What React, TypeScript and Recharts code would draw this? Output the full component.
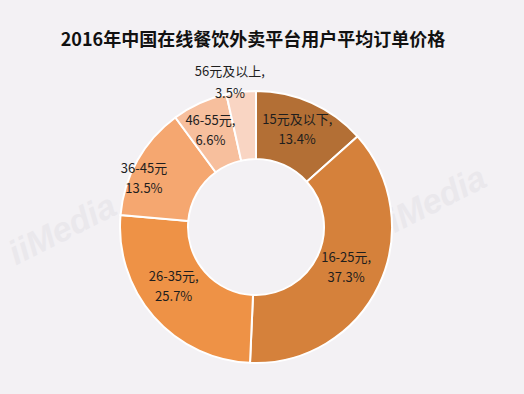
import { PieChart, Pie, Cell } from 'recharts'

const categories = ['15元及以下', '16-25元', '26-35元', '36-45元', '46-55元', '56元及以上']
const shares = [13.4, 37.3, 25.7, 13.5, 6.6, 3.5]
const labelNames = ['15元及以下,', '16-25元,', '26-35元,', '36-45元', '46-55元,', '56元及以上,']

const colors = ['#B36F35', '#D5813B', '#EE9246', '#F5A770', '#F7BF9D', '#F9D5C3']

const chartData = categories.map((name, i) => ({ name, value: shares[i] }))

const RADIAN = Math.PI / 180
const FONT = '"Noto Sans CJK SC", "Noto Sans", sans-serif'

// label radius per slice, some labels sit further out than the ring middle
const labelRadius = [105, 99, 102, 122, 106, 146]
const angleShift = [1, 1, -5, 6, 1, 4]

const renderLabel = (props: any) => {
    const { cx, cy, midAngle, index } = props
    const a = (midAngle + angleShift[index]) * RADIAN
    const r = labelRadius[index]
    const x = cx + r * Math.cos(-a)
    const y = cy + r * Math.sin(-a)
    const gap = index === 5 ? 22 : 20
    return (
        <text
            x={x}
            y={y}
            textAnchor='middle'
            fill='#1E1E1E'
            fontSize={13}
            fontFamily={FONT}
        >
            <tspan x={x} dy={-gap / 2 + 4}>{labelNames[index]}</tspan>
            <tspan x={x} dy={gap}>{`${shares[index]}%`}</tspan>
        </text>
    )
}

const Watermark = ({ left, top }: { left: number, top: number }) => (
    <div
        style={{
            position: 'absolute',
            left,
            top,
            transform: 'rotate(-27deg)',
            transformOrigin: 'left top',
            color: '#EAE8EC',
            fontFamily: 'Arial, "Liberation Sans", sans-serif',
            fontWeight: 'bold',
            fontStyle: 'italic',
            fontSize: 34,
            whiteSpace: 'nowrap',
            pointerEvents: 'none',
        }}
    >
        iiMedia
    </div>
)

export default function App() {
    return (
        <div
            style={{
                position: 'absolute',
                left: 0,
                top: 0,
                width: 524,
                height: 394,
                background: '#F3F1F4',
                overflow: 'hidden',
            }}
        >
            <Watermark left={2} top={238} />
            <Watermark left={372} top={210} />
            <div
                style={{
                    position: 'absolute',
                    left: 0,
                    top: 26,
                    width: 506,
                    textAlign: 'center',
                    fontFamily: FONT,
                    fontWeight: 'bold',
                    fontSize: 18,
                    lineHeight: '24px',
                    color: '#111',
                }}
            >
                2016年中国在线餐饮外卖平台用户平均订单价格
            </div>
            <div style={{ position: 'absolute', left: 0, top: 0 }}>
                <PieChart width={524} height={394}>
                    <Pie
                        data={chartData}
                        dataKey='value'
                        nameKey='name'
                        cx={251}
                        cy={222}
                        innerRadius={68}
                        outerRadius={136}
                        startAngle={90}
                        endAngle={-270}
                        stroke='#FFFFFF'
                        strokeWidth={2}
                        label={renderLabel}
                        labelLine={false}
                        isAnimationActive={false}
                    >
                        {chartData.map((d, i) => (
                            <Cell key={d.name} fill={colors[i]} />
                        ))}
                    </Pie>
                </PieChart>
            </div>
        </div>
    )
}
